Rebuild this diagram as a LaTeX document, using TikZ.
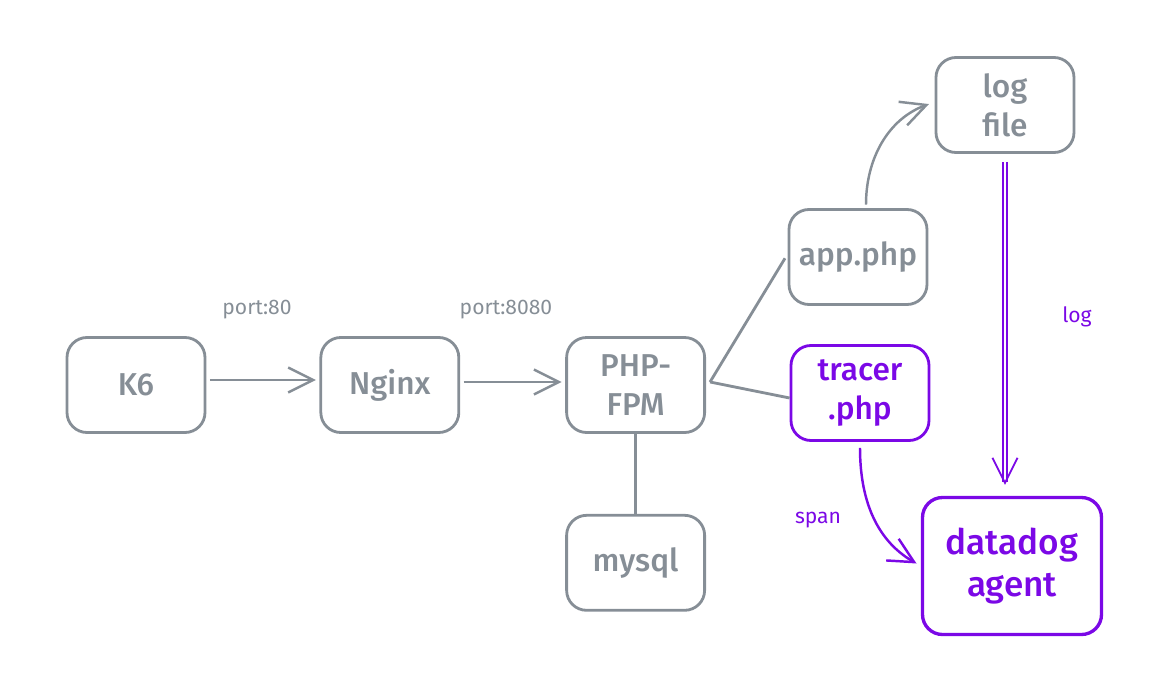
\documentclass[tikz,border=0pt]{standalone}
\usepackage{fontspec}
\setmainfont{Fira Sans}
\newfontfamily\handfont{Fira Sans Medium}
\usetikzlibrary{arrows.meta,positioning,calc}
\definecolor{boxgray}{RGB}{134,142,150}
\definecolor{ddpurple}{RGB}{123,8,230}
\tikzset{
    box/.style={draw=boxgray, text=boxgray, line width=1.6pt, rounded corners=0.4cm, minimum width=2.76cm, minimum height=1.9cm, align=center, font=\handfont\fontsize{18}{22}\selectfont},
    ddbox/.style={box, draw=ddpurple, text=ddpurple},
    flow/.style={-{Straight Barb[length=5mm, width=5mm]}, line width=1.4pt, boxgray},
    link/.style={line width=1.6pt, boxgray},
    ddflow/.style={flow, ddpurple},
    tag/.style={font=\fontsize{12}{14}\selectfont, text=boxgray}
}

\begin{document}
\begin{tikzpicture}[node distance=1cm]
    \useasboundingbox (0,0) rectangle (23.34,-14);
    \node[box] (k6) at (2.72,-7.7) {K6};
    \node[box, right=2.26cm of k6] (nginx) {Nginx};
    \node[box, right=2.1cm of nginx] (fpm) {PHP-\\FPM};
    \node[box, below=1.6cm of fpm] (mysql) {mysql};
    \node[box] (app) at (17.16,-5.14) {app.php};
    \node[box] (logfile) at (20.1,-2.1) {log\\file};
    \node[ddbox] (tracer) at (17.2,-7.86) {tracer\\.php};
    \node[ddbox, line width=1.9pt, minimum width=3.58cm, minimum height=2.74cm, font=\handfont\fontsize{20}{24}\selectfont] (agent) at (20.24,-11.32) {datadog\\agent};

    \node[tag] (p80) at (5.14,-6.2) {port:80};
    \node[tag] (p8080) at (10.12,-6.2) {port:8080};
    \node[tag, text=ddpurple] (logtag) at (21.54,-6.34) {log};
    \node[tag, text=ddpurple] (spantag) at (16.36,-10.4) {span};

    \draw[flow, shorten <=2pt, shorten >=2pt] ([yshift=0.1cm]k6.east) -- ([yshift=0.1cm]nginx.west);
    \draw[flow, shorten <=2pt, shorten >=2pt] ([yshift=0.06cm]nginx.east) -- ([yshift=0.06cm]fpm.west);
    \draw[link, shorten >=0.1cm] ([xshift=0.08cm, yshift=0.06cm]fpm.east) -- ([yshift=0.06cm]app.west);
    \draw[link] ([xshift=0.08cm, yshift=0.06cm]fpm.east) -- ([yshift=-0.1cm]tracer.west);
    \draw[link] (fpm.south) -- (mysql.north);
    \draw[flow, shorten <=2pt, shorten >=0.12cm] ([xshift=0.16cm]app.north) to[out=90, in=200] ([yshift=0.06cm]logfile.west);
    \draw[ddflow, double=white, double distance=1.2pt, line width=1pt, shorten <=0.16cm, shorten >=0.22cm] (logfile.south) -- (logfile.south |- agent.north);
    \draw[ddflow, shorten <=0.12cm, shorten >=0.1cm] (tracer.south) to[out=-90, in=150] (agent.west);
\end{tikzpicture}
\end{document}
